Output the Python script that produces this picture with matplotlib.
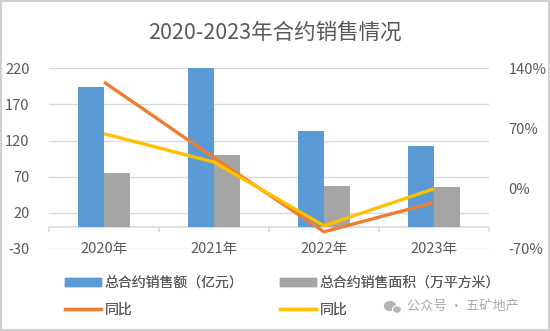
import matplotlib
matplotlib.use("Agg")
import matplotlib.pyplot as plt
import numpy as np
from matplotlib.patches import Patch, Rectangle, Ellipse
from matplotlib.lines import Line2D

plt.rcParams['font.family'] = ['Noto Sans CJK SC', 'DejaVu Sans']

# data
years = ['2020年', '2021年', '2022年', '2023年']
sales_amount = [194, 221, 133, 113]      # 总合约销售额（亿元）
sales_area = [75.6, 100, 56.7, 55.3]     # 总合约销售面积（万平方米）
amount_yoy = [124, 36, -50, -16]         # 同比 (%)
area_yoy = [64, 31, -43, 0]              # 同比 (%)
left_ticks = [220, 170, 120, 70, 20, -30]
right_ticks = [140, 70, 0, -70]

blue = '#5B9BD5'
gray = '#A5A5A5'
orange = '#ED7D31'
yellow = '#FFC000'
txt = '#595959'
grid = '#D9D9D9'

fig = plt.figure(figsize=(5.5, 3.31), dpi=100)
fig.patches.append(Rectangle((0.002, 0.003), 0.996, 0.994, transform=fig.transFigure,
                             fill=False, edgecolor='#D0D0D0', linewidth=1.5))

ax = fig.add_axes([49 / 550, 1 - 249 / 331, 440 / 550, (249 - 68.3) / 331])
x = np.arange(len(years))
w = 0.236
ax.bar(x - w / 2, sales_amount, w, color=blue, zorder=2)
ax.bar(x + w / 2, sales_area, w, color=gray, zorder=2)
ax.set_xlim(-0.5, 3.5)
ax.set_ylim(-30, 220)
ax.set_yticks(left_ticks)
ax.set_yticklabels([str(t) for t in left_ticks])
ax.tick_params(axis='y', length=0, pad=14, labelsize=10.5, labelcolor=txt)
ax.set_xticks([])
for t in left_ticks:
    ax.axhline(t, color=grid, linewidth=1, zorder=0)
for s in ax.spines.values():
    s.set_visible(False)
# category axis line at 0 with boundary ticks
ax.axhline(0, color=grid, linewidth=1.2, zorder=1)
ax.vlines(np.arange(-0.5, 4, 1), -6, 0, color=grid, linewidth=1.2, clip_on=False)
for i, lab in enumerate(years):
    ax.text(i, -30, lab, ha='center', va='center', fontsize=10.5, color=txt)

ax2 = ax.twinx()
ax2.plot(x, amount_yoy, color=orange, linewidth=2.4, solid_capstyle='butt', zorder=3)
ax2.plot(x, area_yoy, color=yellow, linewidth=2.4, solid_capstyle='butt', zorder=3)
ax2.set_ylim(-70, 140)
ax2.set_yticks(right_ticks)
ax2.set_yticklabels([f'{t}%' for t in right_ticks])
ax2.tick_params(axis='y', length=0, pad=14, labelsize=10.5, labelcolor=txt)
for s in ax2.spines.values():
    s.set_visible(False)

fig.text(0.5, 1 - 33 / 331, '2020-2023年合约销售情况', ha='center', va='center',
         fontsize=15.5, color=txt)

# legend entries, placed one by one like the Excel legend
entries = [
    (Patch(color=blue), '总合约销售额（亿元）', 65, 283, {'handleheight': 0.45}),
    (Patch(color=gray), '总合约销售面积（万平方米）', 280, 283, {'handleheight': 0.45}),
    (Line2D([], [], color=orange, linewidth=2.4), '同比', 65, 310, {}),
    (Line2D([], [], color=yellow, linewidth=2.4), '同比', 280, 310, {}),
]
for h, lab, px, py, kw in entries:
    leg = fig.legend([h], [lab], loc='center left', bbox_to_anchor=(px / 550, 1 - py / 331),
                     frameon=False, fontsize=10, labelcolor=txt, handlelength=2.6,
                     handletextpad=0.25, borderpad=0, borderaxespad=0, **kw)
    fig.add_artist(leg)

# watermark
fig.patches.append(Ellipse((390 / 550, 1 - 306 / 331), 11 / 550, 9 / 331,
                           transform=fig.transFigure, color='#B5B5B5'))
fig.patches.append(Ellipse((397 / 550, 1 - 309.5 / 331), 9 / 550, 7.5 / 331,
                           transform=fig.transFigure, color='#B5B5B5', ec='white', lw=0.8))
fig.text(407 / 550, 1 - 307 / 331, '公众号 · 五矿地产', ha='left', va='center',
         fontsize=9.5, color='#AAAAAA')

fig.savefig('out.png', dpi=100)
